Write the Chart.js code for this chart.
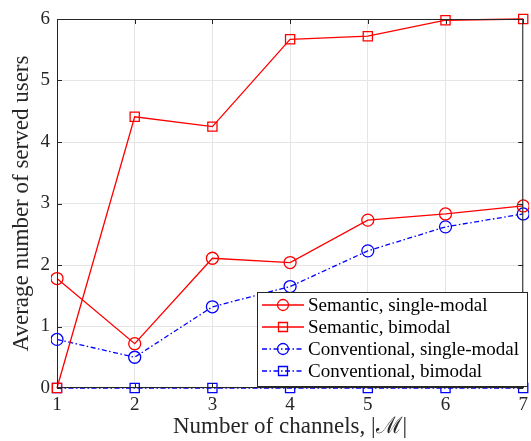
<!DOCTYPE html>
<html>
<head>
<meta charset="utf-8">
<script src="https://cdn.jsdelivr.net/npm/chart.js@4.4.0/dist/chart.umd.min.js"></script>
<style>
  html, body { margin: 0; padding: 0; background: #fff; }
  #wrap { width: 531px; height: 441px; }
</style>
</head>
<body>
<div id="wrap"><canvas id="c" width="531" height="441"></canvas></div>
<script>
// 数据
const channels = [1, 2, 3, 4, 5, 6, 7];
const semanticSingle = [1.78, 0.72, 2.11, 2.04, 2.73, 2.83, 2.96];
const semanticBimodal = [0, 4.41, 4.25, 5.67, 5.72, 5.98, 6.0];
const convSingle = [0.79, 0.50, 1.32, 1.65, 2.23, 2.62, 2.83];
const convBimodal = [0, 0, 0, 0, 0, 0, 0];
const yTicks = [0, 1, 2, 3, 4, 5, 6];
const seriesNames = [
    'Semantic, single-modal',
    'Semantic, bimodal',
    'Conventional, single-modal',
    'Conventional, bimodal'
];

const FONT = '"Liberation Serif", "DejaVu Serif", serif';
const dashDot = [5, 2.5, 1.5, 2.5];

function makeSet(label, values, color, style, dash) {
    return {
        label,
        data: channels.map((x, i) => ({ x, y: values[i] })),
        borderColor: color,
        backgroundColor: 'rgba(0,0,0,0)',
        borderWidth: 1.3,
        borderDash: dash,
        pointStyle: style,
        pointRadius: style === 'circle' ? 6 : 6.5,
        pointBorderWidth: 1.3,
        pointBorderColor: color,
        pointBackgroundColor: 'rgba(0,0,0,0)',
        tension: 0,
        clip: 6
    };
}

// 边框、刻度和图例
const framePlugin = {
    id: 'frame',
    afterDraw(chart) {
        const ctx = chart.ctx;
        const a = chart.chartArea;
        const xs = chart.scales.x;
        const ys = chart.scales.y;
        ctx.save();
        ctx.strokeStyle = '#262626';
        ctx.lineWidth = 1;
        ctx.setLineDash([]);
        ctx.strokeRect(a.left + 0.5, a.top + 0.5, a.right - a.left - 1, a.bottom - a.top - 1);
        channels.forEach(v => {
            const px = Math.round(xs.getPixelForValue(v)) + 0.5;
            ctx.beginPath();
            ctx.moveTo(px, a.bottom); ctx.lineTo(px, a.bottom - 5);
            ctx.moveTo(px, a.top); ctx.lineTo(px, a.top + 5);
            ctx.stroke();
        });
        yTicks.forEach(v => {
            const py = Math.round(ys.getPixelForValue(v)) + 0.5;
            ctx.beginPath();
            ctx.moveTo(a.left, py); ctx.lineTo(a.left + 5, py);
            ctx.moveTo(a.right, py); ctx.lineTo(a.right - 5, py);
            ctx.stroke();
        });

        // 图例
        const lx = 257, ly = 292, lw = 270, lh = 94;
        ctx.fillStyle = '#fff';
        ctx.fillRect(lx, ly, lw, lh);
        ctx.strokeStyle = '#262626';
        ctx.strokeRect(lx + 0.5, ly + 0.5, lw, lh);
        ctx.font = '19px ' + FONT;
        ctx.textBaseline = 'middle';
        chart.data.datasets.forEach((ds, i) => {
            const y = ly + 13 + i * 22;
            ctx.strokeStyle = ds.borderColor;
            ctx.lineWidth = 1.3;
            ctx.setLineDash(ds.borderDash || []);
            ctx.beginPath();
            ctx.moveTo(lx + 5, y); ctx.lineTo(lx + 47, y);
            ctx.stroke();
            ctx.setLineDash([]);
            ctx.beginPath();
            if (ds.pointStyle === 'circle') {
                ctx.arc(lx + 26, y, 5.5, 0, Math.PI * 2);
            } else {
                ctx.rect(lx + 21.5, y - 4.5, 9, 9);
            }
            ctx.stroke();
            ctx.fillStyle = '#000';
            ctx.fillText(seriesNames[i], lx + 51, y + 1);
        });
        ctx.restore();
    }
};

new Chart(document.getElementById('c').getContext('2d'), {
    type: 'line',
    data: {
        datasets: [
            makeSet(seriesNames[0], semanticSingle, '#ff0000', 'circle', []),
            makeSet(seriesNames[1], semanticBimodal, '#ff0000', 'rect', []),
            makeSet(seriesNames[2], convSingle, '#0000ff', 'circle', dashDot),
            makeSet(seriesNames[3], convBimodal, '#0000ff', 'rect', dashDot)
        ]
    },
    options: {
        responsive: false,
        animation: false,
        layout: { padding: { top: 19, right: 3, left: 0, bottom: 0 } },
        plugins: {
            legend: { display: false },
            tooltip: { enabled: false }
        },
        scales: {
            x: {
                type: 'linear',
                min: 1,
                max: 7,
                afterFit: s => {
                    s.height = 53;
                    s.paddingLeft = 0;
                    s.paddingRight = 0;
                },
                ticks: {
                    stepSize: 1,
                    color: '#262626',
                    font: { family: FONT, size: 19 },
                    padding: 6,
                    maxRotation: 0
                },
                grid: { color: '#e5e5e5', drawTicks: false },
                border: { display: false },
                title: {
                    display: true,
                    text: 'Number of channels, |ℳ|',
                    color: '#262626',
                    font: { family: FONT, size: 23 },
                    padding: { top: 0, bottom: 0 }
                }
            },
            y: {
                min: 0,
                max: 6,
                afterFit: s => {
                    s.width = 57;
                    s.paddingTop = 0;
                    s.paddingBottom = 0;
                },
                ticks: {
                    stepSize: 1,
                    color: '#262626',
                    font: { family: FONT, size: 19 },
                    padding: 7
                },
                grid: { color: '#e5e5e5', drawTicks: false },
                border: { display: false },
                title: {
                    display: true,
                    text: 'Average number of served users',
                    color: '#262626',
                    font: { family: FONT, size: 23 },
                    padding: { top: 8, bottom: 0 }
                }
            }
        }
    },
    plugins: [framePlugin]
});
</script>
</body>
</html>
